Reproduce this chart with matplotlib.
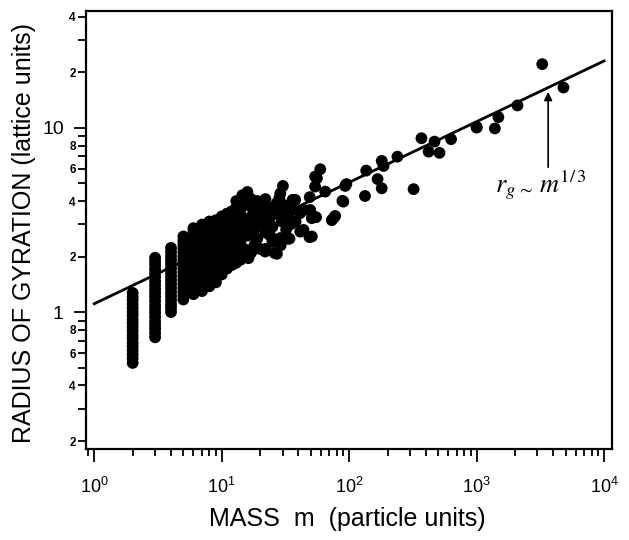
import matplotlib
matplotlib.use("Agg")
import matplotlib.pyplot as plt
from matplotlib.ticker import FixedLocator, FixedFormatter, LogLocator, LogFormatterSciNotation, NullFormatter

plt.rcParams['font.family'] = ['Liberation Sans', 'DejaVu Sans']

# ---- data: dense columns of small clusters (mass, radius values) ----
col_mass = [2, 3, 4, 5, 6, 7, 8, 9, 10, 11, 12, 13, 14]
col_radius = [
    [0.53, 0.56, 0.59, 0.62, 0.65, 0.68, 0.72, 0.75, 0.79, 0.83, 0.87, 0.91, 0.96, 1.0, 1.05, 1.1, 1.16, 1.21, 1.27],
    [0.73, 0.77, 0.81, 0.85, 0.89, 0.94, 0.99, 1.04, 1.09, 1.15, 1.21, 1.27, 1.33, 1.4, 1.47, 1.55, 1.63, 1.71, 1.8, 1.88, 1.97],
    [1.0, 1.05, 1.1, 1.16, 1.22, 1.28, 1.35, 1.42, 1.49, 1.56, 1.64, 1.73, 1.82, 1.91, 2.01, 2.12, 2.23],
    [1.17, 1.23, 1.29, 1.35, 1.42, 1.49, 1.57, 1.65, 1.73, 1.82, 1.91, 2.0, 2.1, 2.21, 2.32, 2.44, 2.57],
    [1.25, 1.31, 1.38, 1.45, 1.52, 1.6, 1.68, 1.76, 1.85, 1.94, 2.04, 2.14, 2.25, 2.36, 2.48, 2.6, 2.73, 2.85],
    [1.3, 1.37, 1.44, 1.51, 1.58, 1.66, 1.74, 1.83, 1.92, 2.02, 2.12, 2.22, 2.33, 2.45, 2.57, 2.7, 2.84, 2.98],
    [1.38, 1.45, 1.52, 1.6, 1.68, 1.76, 1.85, 1.94, 2.04, 2.14, 2.25, 2.36, 2.48, 2.6, 2.73, 2.87, 3.02, 3.1],
    [1.45, 1.52, 1.6, 1.68, 1.76, 1.85, 1.94, 2.04, 2.14, 2.25, 2.36, 2.48, 2.6, 2.73, 2.87, 3.02, 3.15],
    [1.6, 1.68, 1.76, 1.85, 1.94, 2.04, 2.14, 2.25, 2.36, 2.48, 2.6, 2.73, 2.87, 3.02, 3.17, 3.3],
    [1.72, 1.82, 1.93, 2.04, 2.16, 2.29, 2.42, 2.56, 2.71, 2.87, 3.04, 3.22, 3.42],
    [1.8, 1.9, 2.01, 2.13, 2.25, 2.38, 2.52, 2.67, 2.82, 2.98, 3.15, 3.33, 3.52],
    [1.85, 1.96, 2.07, 2.19, 2.32, 2.46, 2.6, 2.75, 2.91, 3.08, 3.26, 3.45, 3.68],
    [1.92, 2.03, 2.15, 2.28, 2.41, 2.55, 2.7, 2.86, 3.02, 3.2, 3.39, 3.6, 3.92],
]

# ---- data: individual larger clusters ----
scatter_mass = [15.9, 16.6, 17.3, 20, 15.8, 16.2, 15, 16, 16, 17, 18, 18, 19, 19, 20, 20,
                21.9, 22, 23, 23, 25.5, 25, 25, 27.1, 28.8, 28.3, 30.2, 28.8, 29.6, 30, 32,
                33.4, 35, 37.7, 36, 41.3, 41.2, 43.8, 44, 48.8, 50.9, 49.5, 52.5, 55, 50.9,
                49.4, 54, 54, 55.8, 59.3, 64.8, 75.3, 77.6, 73, 88.5, 90, 93, 95, 36, 49,
                133, 136, 167, 180, 180, 186, 239, 320, 369, 420, 467, 511, 630, 1000,
                1000, 1390, 1480, 2090, 3270, 4800, 26, 22, 24, 31, 34, 38,
                17, 18, 19, 21, 21, 22, 24, 26, 27, 29, 31, 33, 17, 14.5, 13]
scatter_radius = [4.48, 3.77, 3.77, 3.8, 2.04, 1.96, 2.2, 2.6, 3.0, 3.3, 2.3, 2.8, 3.1, 2.5, 2.2, 3.3,
                  2.13, 2.7, 3.2, 3.6, 3.71, 2.9, 2.4, 2.07, 2.52, 4.15, 4.83, 4.4, 3.1, 3.5, 2.8,
                  3.37, 3.0, 4.06, 3.6, 2.73, 3.44, 2.79, 3.58, 2.55, 2.57, 3.54, 3.3, 3.27, 3.23,
                  3.58, 4.79, 5.43, 5.32, 5.95, 4.5, 3.23, 3.32, 3.15, 4.01, 3.97, 4.83, 4.94, 4.06, 4.2,
                  4.26, 5.85, 5.26, 4.69, 6.6, 6.2, 6.96, 4.64, 8.76, 7.41, 8.4, 7.3, 8.66, 10.1,
                  10.0, 9.9, 11.4, 13.2, 22.1, 16.5, 2.09, 2.2, 3.0, 3.2, 2.5, 3.1,
                  2.1, 3.6, 4.0, 3.0, 3.5, 4.1, 2.6, 3.4, 3.9, 2.3, 3.8, 2.5, 4.1, 4.3, 4.0]

# ---- fitted power law r_g ~ m^(1/3): end points ----
fit_mass = [1.0, 10000.0]
fit_radius = [1.11, 23.0]

y_major = [1, 10]
y_major_labels = ['1', '10']
y_minor = [0.2, 0.3, 0.4, 0.5, 0.6, 0.7, 0.8, 0.9, 2, 3, 4, 5, 6, 7, 8, 9, 20, 30, 40]
y_minor_labels = ['2', '', '4', '', '6', '', '8', '', '2', '', '4', '', '6', '', '8', '', '2', '', '4']

fig = plt.figure(figsize=(6.29, 5.40), dpi=100)
ax = fig.add_axes([86 / 629, 1 - 449 / 540, (612 - 86) / 629, (449 - 11) / 540])
ax.set_xscale('log')
ax.set_yscale('log')

pts_m, pts_r = [], []
for m, rs in zip(col_mass, col_radius):
    for r in rs:
        pts_m.append(m)
        pts_r.append(r)
pts_m += scatter_mass
pts_r += scatter_radius
ax.scatter(pts_m, pts_r, s=72, color='black', edgecolors='none', zorder=2)
ax.plot(fit_mass, fit_radius, color='black', lw=2.0, zorder=3)

ax.set_xlim(10 ** -0.065, 10 ** 4.062)
ax.set_ylim(0.181, 42.9)

ax.xaxis.set_major_locator(LogLocator(base=10, numticks=10))
ax.xaxis.set_major_formatter(LogFormatterSciNotation())
ax.xaxis.set_minor_locator(LogLocator(base=10, subs=(2, 3, 4, 5, 6, 7, 8, 9), numticks=20))
ax.xaxis.set_minor_formatter(NullFormatter())

ax.yaxis.set_major_locator(FixedLocator(y_major))
ax.yaxis.set_major_formatter(FixedFormatter(y_major_labels))
ax.yaxis.set_minor_locator(FixedLocator(y_minor))
ax.yaxis.set_minor_formatter(FixedFormatter(y_minor_labels))

ax.tick_params(axis='x', which='major', direction='out', length=9, width=1.3, labelsize=13, pad=11)
ax.tick_params(axis='x', which='minor', direction='out', length=5, width=1.3)
ax.tick_params(axis='y', which='major', direction='out', length=9, width=1.3, labelsize=14, pad=7)
ax.tick_params(axis='y', which='minor', direction='out', length=5.8, width=1.3, labelsize=8.5, pad=1.5)
for lbl in ax.get_yticklabels(minor=True):
    lbl.set_fontweight('bold')

for sp in ax.spines.values():
    sp.set_linewidth(1.6)

ax.set_xlabel('MASS  m  (particle units)', fontsize=18, va='center')
ax.xaxis.set_label_coords(0.497, -0.16)
ax.set_ylabel('RADIUS OF GYRATION (lattice units)', fontsize=18, va='center')
ax.yaxis.set_label_coords(-0.118, 0.494)

ax.annotate('', xy=(3640, 15.6), xytext=(3640, 6.1),
            arrowprops=dict(arrowstyle='-|>', color='black', lw=1.2, mutation_scale=12,
                            shrinkA=0, shrinkB=0))
ax.text(1390, 4.48, r'$r_{g\,\sim}\,m^{1/\,3}$', fontsize=19, math_fontfamily='stix',
        ha='left', va='baseline')

fig.savefig('out.png', dpi=100)
